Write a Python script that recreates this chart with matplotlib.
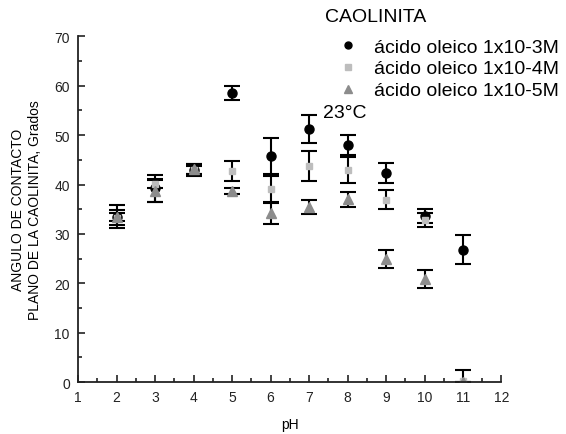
import numpy as np
import matplotlib
matplotlib.use("Agg")
import matplotlib.pyplot as plt
from matplotlib.ticker import MultipleLocator

plt.rcParams['font.family'] = ['Liberation Sans', 'DejaVu Sans']

ph = [2, 3, 4, 5, 6, 7, 8, 9, 10, 11]
y_3M = [33.5, 39.2, 43.0, 58.6, 45.8, 51.3, 48.0, 42.3, 33.7, 26.8]
e_3M = [2.4, 2.8, 1.2, 1.4, 3.6, 2.8, 2.1, 2.0, 1.4, 2.9]
y_4M = [33.3, 40.2, 43.0, 42.7, 39.0, 43.7, 43.0, 36.9, 32.8, 0.3]
e_4M = [1.5, 1.0, 0.8, 2.0, 2.8, 3.0, 2.6, 1.9, 1.4, 2.2]
y_5M = [33.5, 38.7, 43.1, 38.7, 34.3, 35.4, 37.0, 24.9, 20.9, 0.0]
e_5M = [0.8, 2.3, 1.0, 0.6, 2.2, 1.4, 1.5, 1.9, 1.8, 0.0]

labels = ['ácido oleico 1x10-3M', 'ácido oleico 1x10-4M', 'ácido oleico 1x10-5M']

fig = plt.figure(figsize=(5.66, 4.35), dpi=100)
ax = fig.add_axes([0.138, 0.1195, 0.748, 0.7945])

common = dict(ls='none', ecolor='black', elinewidth=1.5, capsize=6, capthick=1.5)
h1 = ax.errorbar(ph, y_3M, yerr=e_3M, marker='o', ms=6.5, mfc='black', mec='black', **common)
h2 = ax.errorbar(ph, y_4M, yerr=e_4M, marker='s', ms=5, mfc='#bdbdbd', mec='#bdbdbd', **common)
h3 = ax.errorbar(ph, y_5M, yerr=e_5M, marker='^', ms=7.5, mfc='#8c8c8c', mec='#8c8c8c', **common)

ax.set_xlim(1, 12)
ax.set_ylim(0, 70)
ax.xaxis.set_major_locator(MultipleLocator(1))
ax.xaxis.set_minor_locator(MultipleLocator(0.5))
ax.yaxis.set_major_locator(MultipleLocator(10))
ax.yaxis.set_minor_locator(MultipleLocator(5))
ax.tick_params(which='both', direction='in', width=1.2, labelsize=10, colors='#222222')
ax.tick_params(which='major', length=5, pad=6)
ax.tick_params(which='minor', length=3)
for s in ['top', 'right']:
    ax.spines[s].set_visible(False)
for s in ['left', 'bottom']:
    ax.spines[s].set_linewidth(1.3)
    ax.spines[s].set_color('#222222')
ax.set_xlabel('pH', fontsize=10, labelpad=9)
ax.set_ylabel('ANGULO DE CONTACTO\nPLANO DE LA CAOLINITA, Grados', fontsize=10, labelpad=9, linespacing=1.2)
ax.patch.set_alpha(0)

ax.text(7.36, 54.5, '23°C', fontsize=14, va='center', ha='left')

fig.text(325 / 566, 1 - 18 / 435, 'CAOLINITA', fontsize=14, va='center', ha='left')
mk1 = plt.Line2D([], [], ls='none', marker='o', ms=5, color='black')
mk2 = plt.Line2D([], [], ls='none', marker='s', ms=4, color='#bdbdbd')
mk3 = plt.Line2D([], [], ls='none', marker='^', ms=5.5, color='#8c8c8c')
fig.legend([mk1, mk2, mk3], labels, loc='upper left', bbox_to_anchor=(338 / 566, 1 - 39 / 435),
           frameon=False, fontsize=14, handlelength=1.0, handletextpad=0.85,
           labelspacing=0.22, borderpad=0, borderaxespad=0)

fig.savefig('out.png', dpi=100)
